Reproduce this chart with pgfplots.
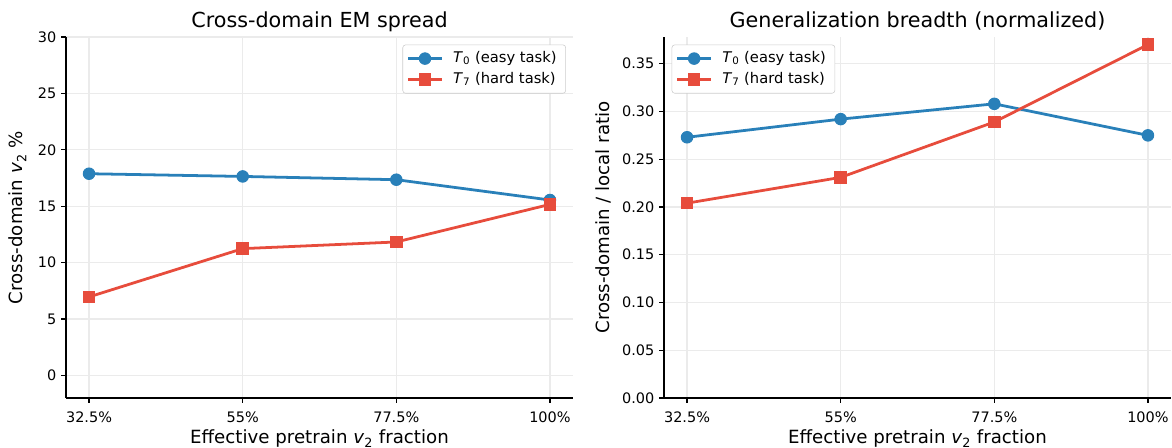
\documentclass[border=0pt]{standalone}
\usepackage{fontspec}
\setmainfont{DejaVu Sans}
\usepackage{pgfplots}
\pgfplotsset{compat=1.18}

\definecolor{easyblue}{HTML}{2980B9}
\definecolor{hardred}{HTML}{E74C3C}
\definecolor{gridgray}{HTML}{EBEBEB}
\definecolor{legendedge}{HTML}{CCCCCC}

% Mean cross-domain EM per pretraining fraction (index 0..3)
\pgfplotstableread{
x  easy   hard
0  17.88  6.96
1  17.64  11.24
2  17.35  11.83
3  15.55  15.16
}\spreadtable

% Cross-domain / local ratio
\pgfplotstableread{
x  easy   hard
0  0.273  0.204
1  0.292  0.231
2  0.308  0.289
3  0.275  0.370
}\breadthtable

\pgfplotsset{
  panel/.style={
    scale only axis, width=365.04pt, height=259.92pt,
    axis lines=left, axis line style={-, line width=0.8pt, black},
    tick align=outside, major tick length=3.5pt,
    tick style={line width=0.8pt, black},
    xmin=-0.15, xmax=3.15, xtick={0,1,2,3},
    xticklabels={32.5\%,55\%,77.5\%,100\%},
    grid=major, major grid style={gridgray, line width=0.8pt},
    tick label style={font=\fontsize{10.4}{12}\selectfont},
    label style={font=\fontsize{13.1}{15}\selectfont},
    title style={font=\fontsize{14.9}{17}\selectfont,
      at={(axis description cs:0.5,1)}, anchor=base, yshift=1pt},
    /pgf/number format/assume math mode=true,
    xlabel={Effective pretrain \textit{v}\textsubscript{2} fraction},
    x label style={at={(axis description cs:0.5,0)}, anchor=base, yshift=-32.8pt},
    x tick label style={anchor=base, yshift=-14pt},
    clip=false,
    legend cell align=left,
    legend style={font=\fontsize{10.6}{12}\selectfont, draw=legendedge,
      rounded corners=2pt, fill=white,
      inner xsep=2.9pt, inner ysep=2.6pt, row sep=0.6pt,
      nodes={inner xsep=3.6pt, inner ysep=2pt, text height=8pt, text depth=2.5pt},
      /tikz/every odd column/.append style={column sep=3.6pt}},
    legend image code/.code={\draw[mark repeat=2, mark phase=2]
      plot coordinates {(0pt,0pt) (12.1pt,0pt) (24.2pt,0pt)};},
  },
  easy/.style={easyblue, line width=2pt, mark=*, mark size=4.14pt,
    mark options={solid, fill=easyblue, draw=easyblue, line width=0.72pt}},
  hard/.style={hardred, line width=2pt, mark=square*, mark size=4.14pt,
    mark options={solid, fill=hardred, draw=hardred, line width=0.72pt}},
}

\begin{document}
\begin{tikzpicture}
\useasboundingbox (-47.52pt,-36pt) rectangle (796.32pt,286.56pt);

\begin{axis}[panel,
  title={Cross-domain EM spread},
  ymin=-2, ymax=30, ytick={0,5,10,15,20,25,30},
  ylabel={Cross-domain \textit{v}\textsubscript{2} \%},
  y label style={at={(axis description cs:0,0.5)}, anchor=center, yshift=34.9pt},
  legend style={at={(axis description cs:1,1)}, anchor=north east,
    xshift=-5.04pt, yshift=-5.5pt},
]
\addplot[easy] table[x=x, y=easy] {\spreadtable};
\addlegendentry{\textit{T}\textsubscript{0} (easy task)}
\addplot[hard] table[x=x, y=hard] {\spreadtable};
\addlegendentry{\textit{T}\textsubscript{7} (hard task)}
\end{axis}

\begin{axis}[panel, at={(430.56pt,0pt)},
  title={Generalization breadth (normalized)},
  ymin=0, ymax=0.378,
  ytick={0,0.05,0.10,0.15,0.20,0.25,0.30,0.35},
  yticklabel style={/pgf/number format/.cd, fixed, fixed zerofill, precision=2},
  ylabel={Cross-domain / local ratio},
  y label style={at={(axis description cs:0,0.5)}, anchor=center, yshift=43.6pt},
  legend style={at={(axis description cs:0,1)}, anchor=north west,
    xshift=5.5pt, yshift=-5.5pt},
]
\addplot[easy] table[x=x, y=easy] {\breadthtable};
\addlegendentry{\textit{T}\textsubscript{0} (easy task)}
\addplot[hard] table[x=x, y=hard] {\breadthtable};
\addlegendentry{\textit{T}\textsubscript{7} (hard task)}
\end{axis}
\end{tikzpicture}
\end{document}
